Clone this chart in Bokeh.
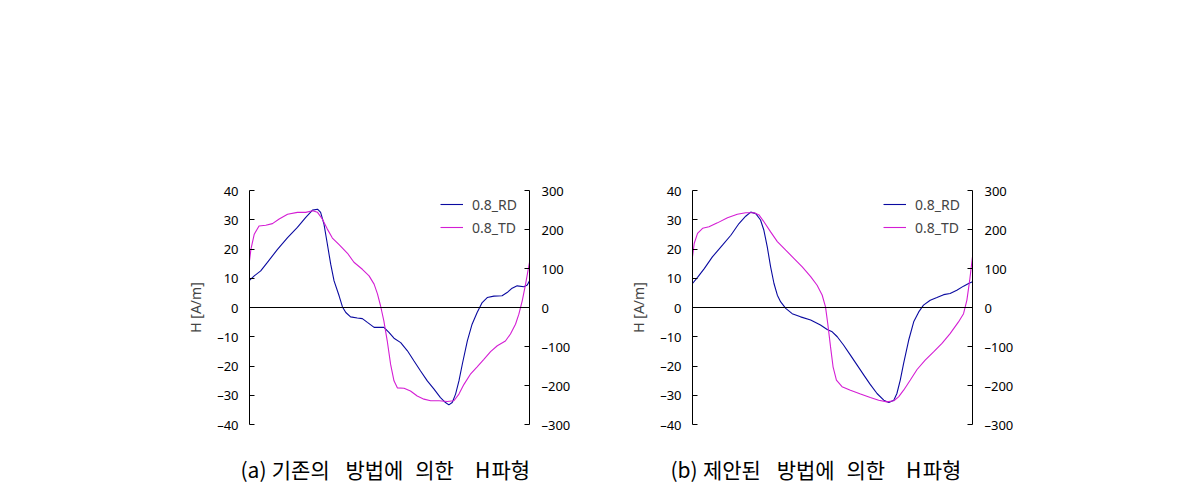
from bokeh.plotting import figure
from bokeh.models import (Range1d, LinearAxis, Span, Legend, LegendItem, Title,
                          FixedTicker, CustomJSTickFormatter)
from bokeh.layouts import row
from bokeh.embed import file_html
from bokeh.resources import INLINE

# ---------------- data (phase in % of period) ----------------
# (a) conventional method
a_rd_x = [0, 1.7, 4, 6.4, 10, 13.6, 17.1, 20.1, 22.5, 24.3, 25.4, 26.6, 27.8, 29, 30.2, 32, 33.2,
          34.4, 36.1, 38.5, 40.3, 42.1, 44.5, 46.3, 48, 49.8, 51.6, 54, 56.4, 58.7, 61.1, 63.5,
          65.9, 68.2, 70, 71.2, 72.4, 73.6, 74.8, 76, 77.8, 79.5, 81.3, 83.1, 84.9, 87.3, 90.2,
          92, 93.8, 95.6, 98, 99.2, 100]
a_rd_h = [9.3, 10.8, 12.5, 15.4, 19.9, 23.9, 27.4, 30.8, 33.3, 33.6, 32.5, 28.5, 21.7, 14.8, 9.1,
          4.0, 0.2, -1.7, -3.2, -3.6, -3.8, -5.1, -6.8, -6.8, -6.8, -8.5, -10.5, -12.0, -14.8,
          -18.2, -21.7, -25.1, -27.9, -30.8, -32.5, -33.3, -32.5, -29.6, -25.1, -19.4, -11.4,
          -5.7, -1.7, 1.7, 3.4, 3.9, 4.0, 5.1, 6.6, 7.4, 7.1, 7.7, 9.1]
a_td_x = [0, 0.5, 1.7, 3.4, 5.8, 8.2, 10.6, 13.6, 17.1, 20.1, 22.5, 24.3, 26, 27.8, 29.6, 32, 35,
          37.3, 40.3, 42.7, 44.5, 45.7, 46.8, 48, 49.2, 50.4, 51.6, 52.8, 55.2, 57.5, 59.9, 62.3,
          64.7, 67.7, 70.6, 73, 74.8, 76.6, 79, 81.3, 83.7, 86.1, 88.5, 91.4, 93.2, 95, 96.2,
          97.4, 98.6, 100]
a_td_h = [120, 149, 188, 209, 211, 215, 227, 239, 244, 244, 248, 244, 227, 201, 178, 161, 139,
          116, 98, 81, 60, 35, 4.5, -35, -86, -146, -188, -206, -207, -214, -227, -235, -239,
          -239, -241, -239, -222, -197, -170, -152, -133, -113, -98, -86, -68, -43, -17, 17, 60,
          116]

# (b) proposed method
b_rd_x = [0, 1.8, 4.2, 7.1, 10.7, 13.7, 16.6, 19, 20.8, 22.6, 24.3, 25.5, 26.7, 27.9, 29.1, 30.3,
          31.5, 33.3, 35.6, 38.6, 42.2, 45.7, 48.1, 49.9, 51.7, 54, 56.4, 58.8, 61.2, 63.4, 65.9,
          68.3, 70.1, 71.9, 73, 74.2, 75.4, 77.2, 79, 80.8, 82.5, 84.9, 87.3, 89.7, 92, 94.4,
          96.8, 98.6, 100]
b_rd_h = [8.2, 10.3, 13.3, 17.3, 21.3, 24.7, 28.7, 31.2, 32.6, 32.1, 29.9, 26.4, 20.7, 13.9, 8.2,
          4.2, 1.9, -0.3, -2.1, -3.2, -4.3, -6.0, -7.5, -8.3, -10.0, -12.9, -16.3, -19.7, -23.1,
          -26.2, -29.4, -31.7, -32.5, -31.7, -29.4, -24.8, -19.1, -11.2, -4.9, -1.5, 0.8, 2.5,
          3.4, 4.4, 4.8, 5.9, 7.3, 8.2, 8.8]
b_td_x = [0, 0.6, 1.8, 3.6, 5.9, 8.9, 12.5, 16, 19, 22, 23.8, 25.5, 27.9, 30.3, 33.3, 36.2, 39.2,
          42.2, 44.5, 46.3, 47.5, 48.3, 49.3, 50.2, 51.4, 53.4, 56.4, 60, 63.5, 66.5, 69.5, 71.9,
          73.6, 75.4, 77.8, 80.2, 83.1, 86.1, 89.1, 92, 95, 96.8, 98, 99, 100]
b_td_h = [130, 164, 190, 203, 207, 217, 230, 239, 243, 243, 237, 220, 194, 169, 147, 126, 104,
          79, 57, 32, 1.5, -41, -101, -152, -186, -203, -212, -222, -231, -238, -242, -239, -229,
          -212, -186, -159, -135, -114, -92, -67, -37, -16, 19, 70, 130]

left_ticks = [-40, -30, -20, -10, 0, 10, 20, 30, 40]
right_ticks = [-300, -200, -100, 0, 100, 200, 300]
series_labels = ["0.8_RD", "0.8_TD"]
captions = ["(a)\u2005기존의\u2002\u2005방법에\u2002\u200a의한\u2003H\u200a파형",
            "(b)\u2005제안된\u2002\u2005방법에\u2002\u200a의한\u2003H\u200a파형"]
y_label = "H [A/m]"

RD_COLOR = "#0A0AA0"
TD_COLOR = "#D41ED4"
FONT = "Noto Sans"
CJK = "Noto Sans CJK KR"

minus_fmt = "return tick < 0 ? '\u2013' + Math.abs(tick) : tick.toString();"

FRAME_TOP = 190
FRAME_H = 234
FIG_H = 490


def style_axis(ax, ticks, standoff):
    ax.ticker = FixedTicker(ticks=ticks)
    ax.formatter = CustomJSTickFormatter(code=minus_fmt)
    ax.axis_line_color = "black"
    ax.major_tick_line_color = "black"
    ax.major_tick_in = 5
    ax.major_tick_out = 0
    ax.minor_tick_line_color = None
    ax.major_label_text_font = FONT
    ax.major_label_text_font_size = "13px"
    ax.major_label_text_color = "black"
    ax.major_label_standoff = standoff


def make_panel(rd_x, rd_h, td_x, td_h, caption, width, border_left, caption_offset):
    p = figure(width=width, height=FIG_H, output_backend="svg", toolbar_location=None,
               x_range=Range1d(0, 100), y_range=Range1d(-40, 40),
               x_axis_location=None, min_border_left=border_left,
               min_border_right=width - border_left - 280,
               min_border_top=FRAME_TOP, min_border_bottom=FIG_H - FRAME_TOP - FRAME_H)
    p.outline_line_color = None
    p.xgrid.visible = False
    p.ygrid.visible = False
    p.background_fill_color = "white"
    p.border_fill_color = "white"

    p.extra_y_ranges = {"r": Range1d(-300, 300)}
    yax = p.yaxis[0]
    style_axis(yax, left_ticks, 11)
    yax.axis_label = y_label
    yax.axis_label_text_font = FONT
    yax.axis_label_text_font_size = "14px"
    yax.axis_label_text_font_style = "normal"
    yax.axis_label_standoff = 9

    rax = LinearAxis(y_range_name="r")
    style_axis(rax, right_ticks, 12)
    p.add_layout(rax, "right")

    p.add_layout(Span(location=0, dimension="width", line_color="black", line_width=1))

    r1 = p.line(rd_x, rd_h, line_color=RD_COLOR, line_width=1.1)
    r2 = p.line(td_x, td_h, line_color=TD_COLOR, line_width=1.1, y_range_name="r")

    leg = Legend(items=[LegendItem(label=series_labels[0], renderers=[r1]),
                        LegendItem(label=series_labels[1], renderers=[r2])],
                 location=(191, 187), padding=0, margin=0, spacing=3,
                 glyph_width=23, glyph_height=20, label_height=20, label_standoff=9,
                 label_text_font=FONT, label_text_font_size="14px",
                 border_line_color=None, background_fill_alpha=0)
    p.add_layout(leg)

    # leading blank line pushes the caption lower inside the bottom border
    p.add_layout(Title(text="\n" + caption, align="left", offset=caption_offset, standoff=2,
                       vertical_align="bottom", text_line_height=0.85,
                       text_font=CJK, text_font_size="21px", text_font_style="normal",
                       text_color="black"), "below")
    return p


pa = make_panel(a_rd_x, a_rd_h, a_td_x, a_td_h, captions[0], 620, 249, -9)
pb = make_panel(b_rd_x, b_rd_h, b_td_x, b_td_h, captions[1], 560, 72, -22)

layout = row(pa, pb)
open("out.html", "w").write(file_html(layout, INLINE))
